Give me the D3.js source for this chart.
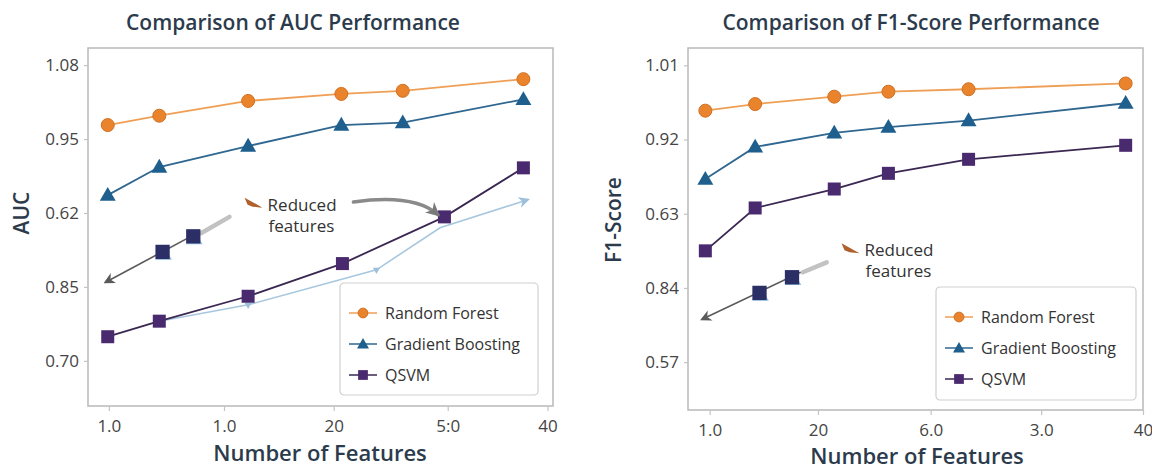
<!DOCTYPE html>
<html><head><meta charset="utf-8">
<script src="https://cdn.jsdelivr.net/npm/d3@7"></script>
<style>
body{margin:0;background:#fff;}
svg{display:block;}
text{font-family:"Open Sans","Noto Sans",sans-serif;}
</style>
</head><body>
<svg id="chart" width="1152" height="472"></svg>
<script>
// ---------------- DATA ----------------
const seriesNames = ["Random Forest", "Gradient Boosting", "QSVM"];

// AUC panel
const aucTitle = "Comparison of AUC Performance";
const aucYLabel = "AUC";
const aucYTickValues = [1.08, 0.985, 0.89, 0.795, 0.70];
const aucYTickLabels = ["1.08", "0.95", "0.62", "0.85", "0.70"];
const aucXTickValues = [0, 10.5, 20.5, 30.9, 40];
const aucXTickLabels = ["1.0", "1.0", "20", "5:0", "40"];
const aucXRF = [-0.1, 4.6, 12.7, 21.2, 26.8, 37.8];
const aucRF = [1.003, 1.015, 1.034, 1.043, 1.047, 1.062];
const aucXGB = [-0.1, 4.6, 12.7, 21.2, 26.8, 37.8];
const aucGB = [0.913, 0.949, 0.976, 1.003, 1.006, 1.036];
const aucXQSVM = [-0.1, 4.6, 12.7, 21.3, 30.6, 37.8];
const aucQSVM = [0.731, 0.751, 0.783, 0.825, 0.885, 0.948];
// AUC "Reduced features" annotation
const aucReducedX = [4.9, 7.7];
const aucReducedY = [0.840, 0.860];
const aucArrowX = [8.3, -0.3];
const aucArrowY = [0.866, 0.801];
const aucFadeX = [8.4, 11.0];
const aucFadeY = [0.864, 0.885];
const aucNoteX = 13.2, aucNoteY = 0.902;
const aucCurveX = [22.3, 27.8, 30.0];
const aucCurveY = [0.904, 0.915, 0.888];
const aucTrendX = [4.6, 12.7, 24.4, 30.2, 38.2];
const aucTrendY = [0.751, 0.772, 0.817, 0.871, 0.907];

// F1 panel
const f1Title = "Comparison of F1-Score Performance";
const f1YLabel = "F1-Score";
const f1YTickValues = [1.01, 0.92, 0.83, 0.74, 0.65];
const f1YTickLabels = ["1.01", "0.92", "0.63", "0.84", "0.57"];
const f1XTickValues = [0, 10.0, 20.4, 30.6, 40];
const f1XTickLabels = ["1.0", "20", "6.0", "3.0", "40"];
const f1X = [-0.4, 4.2, 11.5, 16.5, 23.9, 38.4];
const f1RF = [0.955, 0.963, 0.972, 0.978, 0.981, 0.988];
const f1GB = [0.872, 0.911, 0.928, 0.935, 0.943, 0.964];
const f1QSVM = [0.785, 0.837, 0.860, 0.879, 0.896, 0.913];
const f1ReducedX = [4.6, 7.6];
const f1ReducedY = [0.734, 0.753];
const f1ArrowX = [8.4, -0.7];
const f1ArrowY = [0.759, 0.702];
const f1FadeX = [8.6, 10.8];
const f1FadeY = [0.759, 0.771];
const f1NoteX = 13.0, f1NoteY = 0.787;

const xAxisTitle = "Number of Features";
const noteLines = ["Reduced", "features"];

// ---------------- STYLE ----------------
const colors = {rf: "#e9842c", rfLine: "#ef9f55", gb: "#1f5f8e", gbLine: "#2f6790", q: "#4a2a6e", qLine: "#3a2752"};
const titleColor = "#2c3b4c";
const svg = d3.select("#chart");
const defs = svg.append("defs");
function mkArrow(id, color, size) {
  defs.append("marker").attr("id", id).attr("viewBox", "0 0 10 10").attr("refX", 8).attr("refY", 5)
    .attr("markerWidth", size).attr("markerHeight", size).attr("orient", "auto-start-reverse")
    .append("path").attr("d", "M0,0 L10,5 L0,10 L3,5 Z").attr("fill", color);
}
mkArrow("arDark", "#5a5a5a", 7);
mkArrow("arBlue", "#9cc0dc", 7);
mkArrow("arGray", "#7a7a7a", 4);

const panels = [
  {title: aucTitle, titleX: 293, yLabel: aucYLabel, yLabelX: 22, yLabelY: 213,
   frame: {l: 88, r: 553, t: 48, b: 406}, xDomain: [-1.9, 40.5], yDomain: [0.642, 1.102],
   xt: aucXTickValues, xl: aucXTickLabels, yt: aucYTickValues, yl: aucYTickLabels,
   series: [
     {x: aucXRF, y: aucRF, c: colors.rf, lc: colors.rfLine, m: "circle"},
     {x: aucXGB, y: aucGB, c: colors.gb, lc: colors.gbLine, m: "triangle"},
     {x: aucXQSVM, y: aucQSVM, c: colors.q, lc: colors.qLine, m: "square"}],
   red: {sx: aucReducedX, sy: aucReducedY, ax: aucArrowX, ay: aucArrowY, fx: aucFadeX, fy: aucFadeY, nx: aucNoteX, ny: aucNoteY},
   curve: {x: aucCurveX, y: aucCurveY}, trend: {x: aucTrendX, y: aucTrendY},
   legend: {w: 198, h: 112, ri: 15, bi: 11}, xTitleX: 320, xTitleY: 461},
  {title: f1Title, titleX: 911, yLabel: f1YLabel, yLabelX: 614, yLabelY: 220,
   frame: {l: 688, r: 1143, t: 48, b: 410}, xDomain: [-2.0, 40], yDomain: [0.592, 1.031],
   xt: f1XTickValues, xl: f1XTickLabels, yt: f1YTickValues, yl: f1YTickLabels,
   series: [
     {x: f1X, y: f1RF, c: colors.rf, lc: colors.rfLine, m: "circle"},
     {x: f1X, y: f1GB, c: colors.gb, lc: colors.gbLine, m: "triangle"},
     {x: f1X, y: f1QSVM, c: colors.q, lc: colors.qLine, m: "square"}],
   red: {sx: f1ReducedX, sy: f1ReducedY, ax: f1ArrowX, ay: f1ArrowY, fx: f1FadeX, fy: f1FadeY, nx: f1NoteX, ny: f1NoteY},
   legend: {w: 200, h: 113, ri: 7, bi: 10}, xTitleX: 917, xTitleY: 464}
];

function drawMarker(g, type, x, y, fill, scale) {
  scale = scale || 1;
  if (type === "circle") {
    g.append("circle").attr("cx", x).attr("cy", y).attr("r", 6.5 * scale)
      .attr("fill", fill).attr("stroke", "#d26f22").attr("stroke-width", 1);
  } else if (type === "triangle") {
    const s = d3.symbol().type(d3.symbolTriangle).size(110 * scale * scale);
    g.append("path").attr("d", s()).attr("transform", `translate(${x},${y + 1})`).attr("fill", fill);
  } else {
    const h = 6.5 * scale;
    g.append("rect").attr("x", x - h).attr("y", y - h).attr("width", 2 * h).attr("height", 2 * h).attr("fill", fill);
  }
}

panels.forEach(p => {
  const f = p.frame;
  const x = d3.scaleLinear().domain(p.xDomain).range([f.l, f.r]);
  const y = d3.scaleLinear().domain(p.yDomain).range([f.b, f.t]);
  const g = svg.append("g");

  // title
  g.append("text").attr("x", p.titleX).attr("y", 30).attr("text-anchor", "middle")
    .attr("font-size", 21).attr("font-weight", 600).attr("fill", titleColor).text(p.title);

  // frame
  g.append("rect").attr("x", f.l).attr("y", f.t).attr("width", f.r - f.l).attr("height", f.b - f.t)
    .attr("fill", "none").attr("stroke", "#b9b9b9").attr("stroke-width", 1.5);

  // axes
  const xa = g.append("g").attr("transform", `translate(0,${f.b})`)
    .call(d3.axisBottom(x).tickValues(p.xt).tickFormat((d, i) => p.xl[i]).tickSize(5).tickPadding(9));
  const ya = g.append("g").attr("transform", `translate(${f.l},0)`)
    .call(d3.axisLeft(y).tickValues(p.yt).tickFormat((d, i) => p.yl[i]).tickSize(4).tickPadding(5));
  [xa, ya].forEach(a => {
    a.select(".domain").remove();
    a.selectAll(".tick line").attr("stroke", "#c4c4c4").attr("stroke-width", 1.2);
    a.selectAll(".tick text").attr("font-size", 17).attr("fill", "#444")
      .attr("font-family", "'Open Sans','Noto Sans',sans-serif");
  });

  // axis titles
  g.append("text").attr("x", p.xTitleX).attr("y", p.xTitleY).attr("text-anchor", "middle")
    .attr("font-size", 22).attr("font-weight", 600).attr("fill", titleColor).text(xAxisTitle);
  g.append("text").attr("transform", `translate(${p.yLabelX + 7},${p.yLabelY}) rotate(-90)`)
    .attr("text-anchor", "middle").attr("font-size", 21).attr("font-weight", 600)
    .attr("fill", titleColor).text(p.yLabel);

  // light blue trend line (AUC only)
  if (p.trend) {
    const pts = p.trend.x.map((v, i) => [x(v), y(p.trend.y[i])]);
    g.append("path").attr("d", d3.line()(pts)).attr("fill", "none").attr("stroke", "#a7c7df")
      .attr("stroke-width", 1.6).attr("marker-end", "url(#arBlue)");
    pts.slice(1, 3).forEach(pt => {
      g.append("path").attr("d", d3.symbol().type(d3.symbolTriangle).size(22)())
        .attr("transform", `translate(${pt[0]},${pt[1]}) rotate(60)`).attr("fill", "#9cc0dc");
    });
  }

  // series lines + markers
  p.series.forEach(s => {
    const pts = s.x.map((v, i) => [x(v), y(s.y[i])]);
    g.append("path").attr("d", d3.line()(pts)).attr("fill", "none").attr("stroke", s.lc).attr("stroke-width", 1.8);
    pts.forEach(pt => drawMarker(g, s.m, pt[0], pt[1], s.c));
  });

  // Reduced features annotation
  const r = p.red;
  g.append("line").attr("x1", x(r.fx[0])).attr("y1", y(r.fy[0])).attr("x2", x(r.fx[1])).attr("y2", y(r.fy[1]))
    .attr("stroke", "#c2c2c2").attr("stroke-width", 4.5).attr("stroke-linecap", "round");
  g.append("line").attr("x1", x(r.ax[0])).attr("y1", y(r.ay[0])).attr("x2", x(r.ax[1])).attr("y2", y(r.ay[1]))
    .attr("stroke", "#5a5a5a").attr("stroke-width", 1.6).attr("marker-end", "url(#arDark)");
  r.sx.forEach((v, i) => {
    g.append("path").attr("d", d3.symbol().type(d3.symbolTriangle).size(120)())
      .attr("transform", `translate(${x(v) + 1},${y(r.sy[i]) + 3})`).attr("fill", "#8fc0e0");
    drawMarker(g, "square", x(v), y(r.sy[i]), "#2c2f66", 1.1);
  });
  const nx = x(r.nx), ny = y(r.ny);
  g.append("path").attr("d", `M${nx - 9},${ny - 6} L${nx + 9},${ny + 4} L${nx - 1},${ny + 3} L${nx - 6},${ny + 1} Z`)
    .attr("fill", "#b0602a");
  g.append("text").attr("x", nx + 14).attr("y", ny + 7).attr("font-size", 17).attr("fill", "#333").text(noteLines[0]);
  g.append("text").attr("x", nx + 15).attr("y", ny + 28).attr("font-size", 17).attr("fill", "#333").text(noteLines[1]);

  if (p.curve) {
    const c = p.curve;
    g.append("path")
      .attr("d", `M${x(c.x[0])},${y(c.y[0])} Q${x(c.x[1])},${y(c.y[1])} ${x(c.x[2])},${y(c.y[2])}`)
      .attr("fill", "none").attr("stroke", "#8a8a8a").attr("stroke-width", 3.5)
      .attr("stroke-linecap", "round").attr("marker-end", "url(#arGray)");
  }

  // legend
  const L = p.legend;
  const lx = f.r - L.ri - L.w, ly = f.b - L.bi - L.h;
  const lg = g.append("g").attr("transform", `translate(${lx},${ly})`);
  lg.append("rect").attr("width", L.w).attr("height", L.h).attr("rx", 4)
    .attr("fill", "#fff").attr("stroke", "#cfcfcf").attr("stroke-width", 1.2);
  p.series.forEach((s, i) => {
    const yy = 30 + i * 31;
    lg.append("line").attr("x1", 9).attr("x2", 37).attr("y1", yy).attr("y2", yy)
      .attr("stroke", s.lc).attr("stroke-width", 1.5);
    drawMarker(lg, s.m, 23, yy, s.c, 0.75);
    lg.append("text").attr("x", 45).attr("y", yy + 6).attr("font-size", 16).attr("fill", "#333").text(seriesNames[i]);
  });
});
</script>
</body></html>
